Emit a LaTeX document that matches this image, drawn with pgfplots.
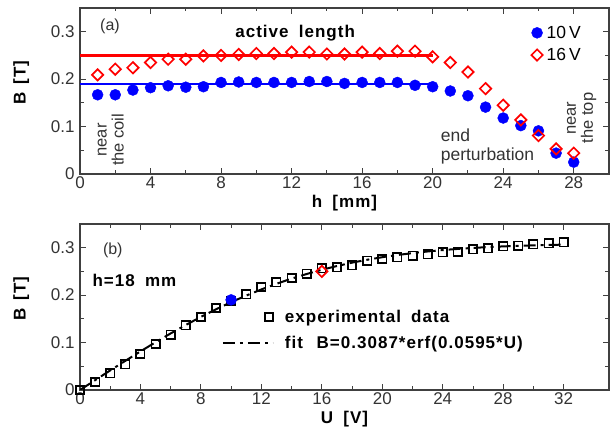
\documentclass[border=0pt]{standalone}
\usepackage{fontspec}
\setmainfont{Liberation Sans}[BoldFeatures={LetterSpace=6}]
\usepackage{pgfplots}
\pgfplotsset{compat=1.18}
\pgfplotsset{
  sqlegend/.style={legend image code/.code={\draw[##1] plot coordinates {(46pt,0pt)};}},
  linelegend/.style={legend image code/.code={\draw[##1] (0pt,0pt) -- (50pt,0pt);}},
  dmlegend/.style={legend image code/.code={\draw[##1] plot coordinates {(9pt,0pt)};}},
}
\begin{document}
\begin{tikzpicture}
\pgfplotsset{
  common/.style={
    width=529pt, height=166pt, scale only axis, anchor=south west,
    axis line style={line width=1.1pt, black!75},
    every tick/.style={line width=0.9pt, black!75},
    major tick length=6pt, minor tick length=3.5pt,
    tick align=inside, xtick pos=both, ytick pos=both,
    /pgf/number format/assume math mode=true,
    tick label style={font=\fontsize{17}{19}\selectfont, text=black!80},
    yticklabel style={xshift=-2pt},
    xticklabel style={yshift=1pt},
    label style={font=\bfseries\fontsize{17}{19}\selectfont},
    ymin=0, ymax=0.35, ytick={0,0.1,0.2,0.3}, minor y tick num=1,
    scaled y ticks=false,
    yticklabel style={/pgf/number format/fixed, /pgf/number format/precision=1},
    ylabel={B\hspace{0.5em}[T]},
    ylabel style={at={(axis description cs:-0.111,0.55)}, anchor=center},
    minor x tick num=1,
  }
}
% ---------- (a) ----------
\begin{axis}[common, at={(80pt,262pt)},
  xmin=0, xmax=30, xtick={0,4,...,28},
  xlabel={h\hspace{0.6em}[mm]},
  legend style={at={(rel axis cs:0.853,0.905)}, anchor=north west, draw=none, fill=none,
    font=\fontsize{17.5}{20}\selectfont, row sep=4.5pt, inner sep=0pt, column sep=2pt},
  legend cell align=left]
\addplot[only marks, mark=*, mark size=5.5pt, color=blue, dmlegend] coordinates {
(1,0.167)(2,0.167)(3,0.177)(4,0.182)(5,0.186)(6,0.183)(7,0.184)(8,0.193)(9,0.194)(10,0.193)
(11,0.193)(12,0.193)(13,0.195)(14,0.195)(15,0.191)(16,0.193)(17,0.193)(18,0.193)(19,0.187)(20,0.184)
(21,0.175)(22,0.165)(23,0.141)(24,0.118)(25,0.102)(26,0.091)(27,0.044)(28,0.025)};
\addlegendentry{10\,V}
\addplot[only marks, mark=square, mark size=4pt, mark options={rotate=45}, color=red, line width=1.7pt, dmlegend] coordinates {
(1,0.209)(2,0.221)(3,0.224)(4,0.235)(5,0.242)(6,0.242)(7,0.249)(8,0.250)(9,0.252)(10,0.254)
(11,0.254)(12,0.257)(13,0.257)(14,0.253)(15,0.253)(16,0.257)(17,0.254)(18,0.259)(19,0.259)(20,0.247)
(21,0.235)(22,0.215)(23,0.180)(24,0.145)(25,0.114)(26,0.081)(27,0.053)(28,0.044)};
\addlegendentry{16\,V}
\addplot[red, line width=2.4pt, forget plot] coordinates {(0,0.250)(20,0.250)};
\addplot[blue, line width=2.4pt, forget plot] coordinates {(0,0.190)(20,0.190)};
\node[font=\fontsize{16}{18}\selectfont, text=black!80] at (axis cs:1.7,0.311) {(a)};
\node[font=\bfseries\fontsize{17}{19}\selectfont] at (axis cs:12.2,0.298) {active\hspace{0.6em}length};
\node[font=\fontsize{16.5}{17}\selectfont, text=black!80, rotate=90, align=center] at (axis cs:1.75,0.072) {near\\the coil};
\node[font=\fontsize{17.5}{19}\selectfont, text=black!80, align=left, anchor=west, inner sep=0pt] at (axis cs:20.45,0.059) {end\\perturbation};
\node[font=\fontsize{16.5}{17}\selectfont, text=black!80, rotate=90, align=center] at (axis cs:28.45,0.118) {near\\the top};
\end{axis}
% ---------- (b) ----------
\begin{axis}[common, at={(80pt,46pt)},
  xmin=0, xmax=35, xtick={0,4,...,32},
  xlabel={U\hspace{0.6em}[V]},
  legend style={at={(rel axis cs:0.268,0.495)}, anchor=north west, draw=none, fill=none,
    font=\bfseries\fontsize{17}{19}\selectfont, row sep=8pt, inner sep=0pt, column sep=9pt},
  legend cell align=left]
\addplot[only marks, mark=square, mark size=4.2pt, black, line width=1.6pt, sqlegend] coordinates {
(0,0.000)(1,0.017)(2,0.035)(3,0.054)(4,0.076)(5,0.097)(6,0.117)(7,0.136)(8,0.154)(9,0.173)
(10,0.188)(11,0.202)(12,0.217)(13,0.227)(14,0.236)(15,0.245)(16,0.257)(17,0.259)(18,0.263)(19,0.273)
(20,0.276)(21,0.280)(22,0.283)(23,0.286)(24,0.290)(25,0.291)(26,0.297)(27,0.2985)(28,0.303)(29,0.304)
(30,0.3075)(31,0.309)(32,0.311)};
\addlegendentry{experimental\hspace{0.6em}data}
\addplot[black, line width=2pt, dash pattern=on 12pt off 5pt on 3pt off 5pt, linelegend] coordinates {
(0,0.0000)(1,0.0207)(2,0.0413)(3,0.0615)(4,0.0814)(5,0.1007)(6,0.1193)(7,0.1371)(8,0.1541)(9,0.1702)
(10,0.1852)(11,0.1991)(12,0.2120)(13,0.2239)(14,0.2349)(15,0.2446)(16,0.2535)(17,0.2614)(18,0.2685)(19,0.2746)
(20,0.2800)(21,0.2846)(22,0.2886)(23,0.2921)(24,0.2950)(25,0.2975)(26,0.2996)(27,0.3013)(28,0.3028)(29,0.3040)
(30,0.3050)(31,0.3058)(32,0.3065)};
\addlegendentry{fit\hspace{0.8em}B=0.3087*erf(0.0595*U)}
\addplot[only marks, mark=*, mark size=5.5pt, color=blue, forget plot] coordinates {(10,0.190)};
\addplot[only marks, mark=square, mark size=4pt, mark options={rotate=45}, color=red, line width=1.7pt, forget plot] coordinates {(16,0.250)};
\node[font=\fontsize{16}{18}\selectfont, text=black!80] at (axis cs:2.17,0.295) {(b)};
\node[font=\bfseries\fontsize{17}{19}\selectfont] at (axis cs:3.6,0.23) {h=18\hspace{0.6em}mm};
\end{axis}
\pgfresetboundingbox
\path (0pt,0pt) rectangle (611pt,436pt);
\end{tikzpicture}
\end{document}
